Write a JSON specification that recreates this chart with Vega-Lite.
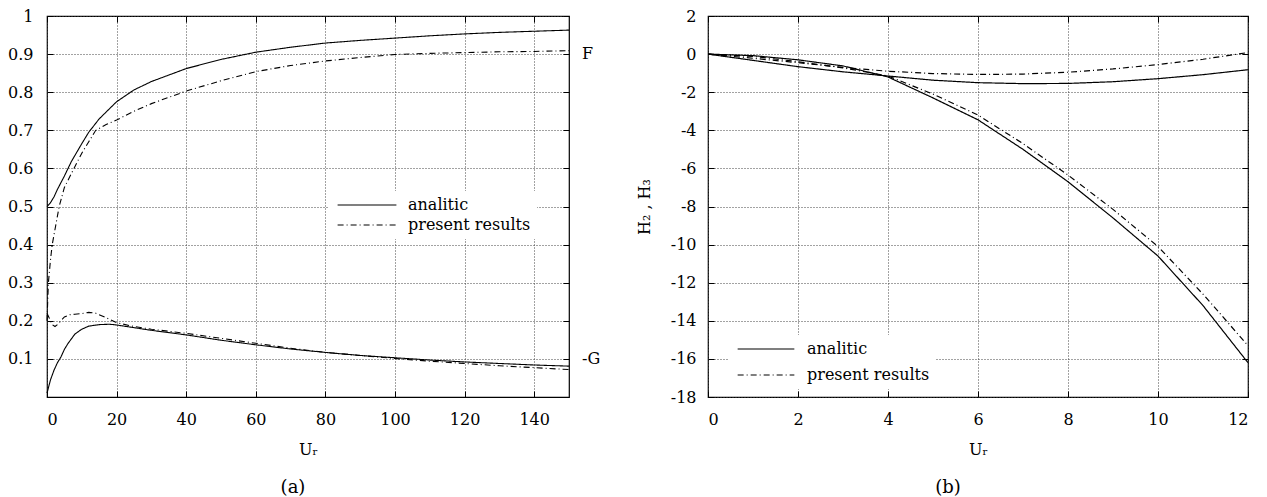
{
  "$schema": "https://vega.github.io/schema/vega-lite/v6.json",
  "background": "white",
  "padding": {"left": 6, "top": 7, "right": 5, "bottom": 0},
  "spacing": 34,
  "resolve": {"scale": {"strokeDash": "independent"}, "legend": {"strokeDash": "independent"}},
  "config": {
    "font": "DejaVu Serif",
    "view": {"stroke": "black", "strokeWidth": 1.2},
    "axis": {
      "labelFont": "DejaVu Serif", "labelFontSize": 16, "labelColor": "black",
      "titleFont": "DejaVu Serif", "titleFontSize": 16, "titleColor": "black", "titleFontWeight": "normal",
      "domain": false, "tickColor": "black", "tickWidth": 1, "tickSize": -6,
      "gridColor": "#444", "gridDash": [1, 2], "gridWidth": 1, "zindex": 1
    },
    "legend": {"labelFont": "DejaVu Serif", "labelFontSize": 16, "labelColor": "black"},
    "title": {"font": "DejaVu Serif", "fontSize": 18, "fontWeight": "normal", "color": "black"}
  },
  "hconcat": [
    {
      "width": 522, "height": 381,
      "title": {"text": "(a)", "orient": "bottom", "dx": -15, "offset": 22},
      "layer": [
        {
          "data": {"values": [
            {"u":0,"v":0.5,"curve":"F","method":"analitic"},
            {"u":1,"v":0.51,"curve":"F","method":"analitic"},
            {"u":2,"v":0.525,"curve":"F","method":"analitic"},
            {"u":3,"v":0.545,"curve":"F","method":"analitic"},
            {"u":5,"v":0.58,"curve":"F","method":"analitic"},
            {"u":7,"v":0.618,"curve":"F","method":"analitic"},
            {"u":10,"v":0.665,"curve":"F","method":"analitic"},
            {"u":12,"v":0.695,"curve":"F","method":"analitic"},
            {"u":15,"v":0.73,"curve":"F","method":"analitic"},
            {"u":20,"v":0.775,"curve":"F","method":"analitic"},
            {"u":25,"v":0.806,"curve":"F","method":"analitic"},
            {"u":30,"v":0.828,"curve":"F","method":"analitic"},
            {"u":40,"v":0.862,"curve":"F","method":"analitic"},
            {"u":50,"v":0.886,"curve":"F","method":"analitic"},
            {"u":60,"v":0.905,"curve":"F","method":"analitic"},
            {"u":70,"v":0.918,"curve":"F","method":"analitic"},
            {"u":80,"v":0.929,"curve":"F","method":"analitic"},
            {"u":90,"v":0.936,"curve":"F","method":"analitic"},
            {"u":100,"v":0.942,"curve":"F","method":"analitic"},
            {"u":110,"v":0.948,"curve":"F","method":"analitic"},
            {"u":120,"v":0.953,"curve":"F","method":"analitic"},
            {"u":130,"v":0.957,"curve":"F","method":"analitic"},
            {"u":140,"v":0.96,"curve":"F","method":"analitic"},
            {"u":150,"v":0.963,"curve":"F","method":"analitic"},

            {"u":0,"v":0.2,"curve":"Fp","method":"present results"},
            {"u":0.4,"v":0.3,"curve":"Fp","method":"present results"},
            {"u":1,"v":0.36,"curve":"Fp","method":"present results"},
            {"u":1.5,"v":0.4,"curve":"Fp","method":"present results"},
            {"u":2.5,"v":0.45,"curve":"Fp","method":"present results"},
            {"u":3.5,"v":0.5,"curve":"Fp","method":"present results"},
            {"u":5,"v":0.55,"curve":"Fp","method":"present results"},
            {"u":7.75,"v":0.6,"curve":"Fp","method":"present results"},
            {"u":10,"v":0.64,"curve":"Fp","method":"present results"},
            {"u":12,"v":0.67,"curve":"Fp","method":"present results"},
            {"u":14,"v":0.7,"curve":"Fp","method":"present results"},
            {"u":17,"v":0.715,"curve":"Fp","method":"present results"},
            {"u":20,"v":0.727,"curve":"Fp","method":"present results"},
            {"u":25,"v":0.75,"curve":"Fp","method":"present results"},
            {"u":30,"v":0.77,"curve":"Fp","method":"present results"},
            {"u":40,"v":0.803,"curve":"Fp","method":"present results"},
            {"u":50,"v":0.83,"curve":"Fp","method":"present results"},
            {"u":60,"v":0.854,"curve":"Fp","method":"present results"},
            {"u":70,"v":0.87,"curve":"Fp","method":"present results"},
            {"u":80,"v":0.882,"curve":"Fp","method":"present results"},
            {"u":90,"v":0.891,"curve":"Fp","method":"present results"},
            {"u":100,"v":0.899,"curve":"Fp","method":"present results"},
            {"u":110,"v":0.902,"curve":"Fp","method":"present results"},
            {"u":120,"v":0.904,"curve":"Fp","method":"present results"},
            {"u":130,"v":0.906,"curve":"Fp","method":"present results"},
            {"u":140,"v":0.907,"curve":"Fp","method":"present results"},
            {"u":150,"v":0.909,"curve":"Fp","method":"present results"},

            {"u":0,"v":0.01,"curve":"G","method":"analitic"},
            {"u":1,"v":0.045,"curve":"G","method":"analitic"},
            {"u":2,"v":0.07,"curve":"G","method":"analitic"},
            {"u":3,"v":0.09,"curve":"G","method":"analitic"},
            {"u":4,"v":0.105,"curve":"G","method":"analitic"},
            {"u":5,"v":0.125,"curve":"G","method":"analitic"},
            {"u":6,"v":0.14,"curve":"G","method":"analitic"},
            {"u":8,"v":0.165,"curve":"G","method":"analitic"},
            {"u":10,"v":0.178,"curve":"G","method":"analitic"},
            {"u":12,"v":0.186,"curve":"G","method":"analitic"},
            {"u":15,"v":0.19,"curve":"G","method":"analitic"},
            {"u":18,"v":0.191,"curve":"G","method":"analitic"},
            {"u":20,"v":0.189,"curve":"G","method":"analitic"},
            {"u":25,"v":0.182,"curve":"G","method":"analitic"},
            {"u":30,"v":0.175,"curve":"G","method":"analitic"},
            {"u":40,"v":0.163,"curve":"G","method":"analitic"},
            {"u":50,"v":0.149,"curve":"G","method":"analitic"},
            {"u":60,"v":0.137,"curve":"G","method":"analitic"},
            {"u":70,"v":0.126,"curve":"G","method":"analitic"},
            {"u":80,"v":0.117,"curve":"G","method":"analitic"},
            {"u":90,"v":0.109,"curve":"G","method":"analitic"},
            {"u":100,"v":0.103,"curve":"G","method":"analitic"},
            {"u":110,"v":0.097,"curve":"G","method":"analitic"},
            {"u":120,"v":0.092,"curve":"G","method":"analitic"},
            {"u":130,"v":0.088,"curve":"G","method":"analitic"},
            {"u":140,"v":0.084,"curve":"G","method":"analitic"},
            {"u":150,"v":0.081,"curve":"G","method":"analitic"},

            {"u":0,"v":0.22,"curve":"Gp","method":"present results"},
            {"u":0.5,"v":0.21,"curve":"Gp","method":"present results"},
            {"u":1,"v":0.2,"curve":"Gp","method":"present results"},
            {"u":1.5,"v":0.19,"curve":"Gp","method":"present results"},
            {"u":2.3,"v":0.185,"curve":"Gp","method":"present results"},
            {"u":3,"v":0.19,"curve":"Gp","method":"present results"},
            {"u":4,"v":0.2,"curve":"Gp","method":"present results"},
            {"u":5,"v":0.21,"curve":"Gp","method":"present results"},
            {"u":6.6,"v":0.216,"curve":"Gp","method":"present results"},
            {"u":8,"v":0.217,"curve":"Gp","method":"present results"},
            {"u":10,"v":0.219,"curve":"Gp","method":"present results"},
            {"u":12,"v":0.222,"curve":"Gp","method":"present results"},
            {"u":14,"v":0.22,"curve":"Gp","method":"present results"},
            {"u":17,"v":0.208,"curve":"Gp","method":"present results"},
            {"u":20,"v":0.195,"curve":"Gp","method":"present results"},
            {"u":25,"v":0.185,"curve":"Gp","method":"present results"},
            {"u":30,"v":0.178,"curve":"Gp","method":"present results"},
            {"u":40,"v":0.167,"curve":"Gp","method":"present results"},
            {"u":50,"v":0.154,"curve":"Gp","method":"present results"},
            {"u":60,"v":0.141,"curve":"Gp","method":"present results"},
            {"u":70,"v":0.128,"curve":"Gp","method":"present results"},
            {"u":80,"v":0.117,"curve":"Gp","method":"present results"},
            {"u":90,"v":0.109,"curve":"Gp","method":"present results"},
            {"u":100,"v":0.101,"curve":"Gp","method":"present results"},
            {"u":110,"v":0.094,"curve":"Gp","method":"present results"},
            {"u":120,"v":0.088,"curve":"Gp","method":"present results"},
            {"u":130,"v":0.082,"curve":"Gp","method":"present results"},
            {"u":140,"v":0.077,"curve":"Gp","method":"present results"},
            {"u":150,"v":0.072,"curve":"Gp","method":"present results"}
          ]},
          "mark": {"type": "line", "color": "black", "strokeWidth": 1.1},
          "encoding": {
            "x": {"field": "u", "type": "quantitative", "scale": {"domain": [0, 150], "nice": false},
                  "axis": {"values": [0,20,40,60,80,100,120,140], "title": "Uᵣ", "labelPadding": 20, "titlePadding": 14, "grid": true}},
            "y": {"field": "v", "type": "quantitative", "scale": {"domain": [0, 1], "nice": false},
                  "axis": {"values": [0.1,0.2,0.3,0.4,0.5,0.6,0.7,0.8,0.9,1], "format": "~g", "title": null, "labelPadding": 20, "grid": true}},
            "detail": {"field": "curve"},
            "strokeDash": {"field": "method", "type": "nominal",
              "scale": {"domain": ["analitic", "present results"], "range": [[1, 0], [6, 3, 1, 3]]},
              "legend": {"title": null, "orient": "none", "legendX": 281, "legendY": 175,
                "symbolType": "M-8.4,0L8.4,0", "symbolSize": 49, "symbolOffset": 25, "symbolStrokeWidth": 1.1, "symbolStrokeColor": "black", "symbolFillColor": "transparent",
                "labelOffset": 33, "rowPadding": 4, "padding": 6, "fillColor": "white", "zindex": 0}}
          }
        },
        {
          "data": {"values": [
            {"u": 150, "v": 0.9, "label": "F"},
            {"u": 150, "v": 0.1, "label": "-G"}
          ]},
          "mark": {"type": "text", "align": "left", "baseline": "middle", "dx": 13, "fontSize": 16, "font": "DejaVu Serif", "color": "black"},
          "encoding": {
            "x": {"field": "u", "type": "quantitative", "scale": {"domain": [0, 150], "nice": false},
                  "axis": {"orient": "top", "values": [0,20,40,60,80,100,120,140], "labels": false, "grid": false, "title": null}},
            "y": {"field": "v", "type": "quantitative", "scale": {"domain": [0, 1], "nice": false},
                  "axis": {"orient": "right", "values": [0.1,0.2,0.3,0.4,0.5,0.6,0.7,0.8,0.9,1], "labels": false, "grid": false, "title": null}},
            "text": {"field": "label"}
          }
        }
      ],
      "resolve": {"axis": {"x": "independent", "y": "independent"}}
    },
    {
      "width": 540, "height": 381,
      "title": {"text": "(b)", "orient": "bottom", "dx": -30, "offset": 22},
      "data": {"values": [
        {"u":0,"v":0,"curve":"H2","method":"analitic"},
        {"u":1,"v":-0.33,"curve":"H2","method":"analitic"},
        {"u":2,"v":-0.66,"curve":"H2","method":"analitic"},
        {"u":3,"v":-0.93,"curve":"H2","method":"analitic"},
        {"u":4,"v":-1.15,"curve":"H2","method":"analitic"},
        {"u":5,"v":-1.37,"curve":"H2","method":"analitic"},
        {"u":6,"v":-1.5,"curve":"H2","method":"analitic"},
        {"u":7,"v":-1.55,"curve":"H2","method":"analitic"},
        {"u":8,"v":-1.54,"curve":"H2","method":"analitic"},
        {"u":9,"v":-1.45,"curve":"H2","method":"analitic"},
        {"u":10,"v":-1.29,"curve":"H2","method":"analitic"},
        {"u":11,"v":-1.08,"curve":"H2","method":"analitic"},
        {"u":12,"v":-0.82,"curve":"H2","method":"analitic"},

        {"u":0,"v":0,"curve":"H3","method":"analitic"},
        {"u":1,"v":-0.08,"curve":"H3","method":"analitic"},
        {"u":2,"v":-0.3,"curve":"H3","method":"analitic"},
        {"u":3,"v":-0.62,"curve":"H3","method":"analitic"},
        {"u":4,"v":-1.2,"curve":"H3","method":"analitic"},
        {"u":5,"v":-2.3,"curve":"H3","method":"analitic"},
        {"u":6,"v":-3.45,"curve":"H3","method":"analitic"},
        {"u":7,"v":-5.0,"curve":"H3","method":"analitic"},
        {"u":8,"v":-6.7,"curve":"H3","method":"analitic"},
        {"u":9,"v":-8.6,"curve":"H3","method":"analitic"},
        {"u":10,"v":-10.6,"curve":"H3","method":"analitic"},
        {"u":11,"v":-13.2,"curve":"H3","method":"analitic"},
        {"u":12,"v":-16.2,"curve":"H3","method":"analitic"},

        {"u":0,"v":0,"curve":"H2p","method":"present results"},
        {"u":1,"v":-0.22,"curve":"H2p","method":"present results"},
        {"u":2,"v":-0.45,"curve":"H2p","method":"present results"},
        {"u":3,"v":-0.7,"curve":"H2p","method":"present results"},
        {"u":4,"v":-0.9,"curve":"H2p","method":"present results"},
        {"u":5,"v":-1.02,"curve":"H2p","method":"present results"},
        {"u":6,"v":-1.07,"curve":"H2p","method":"present results"},
        {"u":7,"v":-1.05,"curve":"H2p","method":"present results"},
        {"u":8,"v":-0.95,"curve":"H2p","method":"present results"},
        {"u":9,"v":-0.78,"curve":"H2p","method":"present results"},
        {"u":10,"v":-0.55,"curve":"H2p","method":"present results"},
        {"u":11,"v":-0.27,"curve":"H2p","method":"present results"},
        {"u":12,"v":0.08,"curve":"H2p","method":"present results"},

        {"u":0,"v":0,"curve":"H3p","method":"present results"},
        {"u":1,"v":-0.12,"curve":"H3p","method":"present results"},
        {"u":2,"v":-0.4,"curve":"H3p","method":"present results"},
        {"u":3,"v":-0.72,"curve":"H3p","method":"present results"},
        {"u":4,"v":-1.15,"curve":"H3p","method":"present results"},
        {"u":5,"v":-2.1,"curve":"H3p","method":"present results"},
        {"u":6,"v":-3.2,"curve":"H3p","method":"present results"},
        {"u":7,"v":-4.7,"curve":"H3p","method":"present results"},
        {"u":8,"v":-6.35,"curve":"H3p","method":"present results"},
        {"u":9,"v":-8.15,"curve":"H3p","method":"present results"},
        {"u":10,"v":-10.1,"curve":"H3p","method":"present results"},
        {"u":11,"v":-12.6,"curve":"H3p","method":"present results"},
        {"u":12,"v":-15.3,"curve":"H3p","method":"present results"}
      ]},
      "layer": [
        {
          "mark": {"type": "line", "color": "black", "strokeWidth": 1.2},
          "encoding": {
            "x": {"field": "u", "type": "quantitative", "scale": {"domain": [0, 12], "nice": false},
                  "axis": {"values": [0,2,4,6,8,10,12], "title": "Uᵣ", "labelPadding": 20, "titlePadding": 14, "grid": true}},
            "y": {"field": "v", "type": "quantitative", "scale": {"domain": [-18, 2], "nice": false},
                  "axis": {"values": [-18,-16,-14,-12,-10,-8,-6,-4,-2,0,2], "labelExpr": "replace(datum.label, '−', '-')", "title": "H₂ , H₃", "labelPadding": 18, "titlePadding": 18, "grid": true}},
            "detail": {"field": "curve"},
            "strokeDash": {"field": "method", "type": "nominal",
              "scale": {"domain": ["analitic", "present results"], "range": [[1, 0], [6, 3, 1, 3]]},
              "legend": {"title": null, "orient": "none", "legendX": 20, "legendY": 319,
                "symbolType": "M-8.1,0L8.1,0", "symbolSize": 49, "symbolOffset": 24, "symbolStrokeWidth": 1.1, "symbolStrokeColor": "black", "symbolFillColor": "transparent",
                "labelOffset": 33, "rowPadding": 10, "padding": 6, "fillColor": "white", "zindex": 0}}
          }
        },
        {
          "mark": {"type": "point", "opacity": 0, "size": 1},
          "encoding": {
            "x": {"field": "u", "type": "quantitative", "scale": {"domain": [0, 12], "nice": false},
                  "axis": {"orient": "top", "values": [0,2,4,6,8,10,12], "labels": false, "grid": false, "title": null}},
            "y": {"field": "v", "type": "quantitative", "scale": {"domain": [-18, 2], "nice": false},
                  "axis": {"orient": "right", "values": [-18,-16,-14,-12,-10,-8,-6,-4,-2,0,2], "labels": false, "grid": false, "title": null}}
          }
        }
      ],
      "resolve": {"axis": {"x": "independent", "y": "independent"}}
    }
  ]
}
